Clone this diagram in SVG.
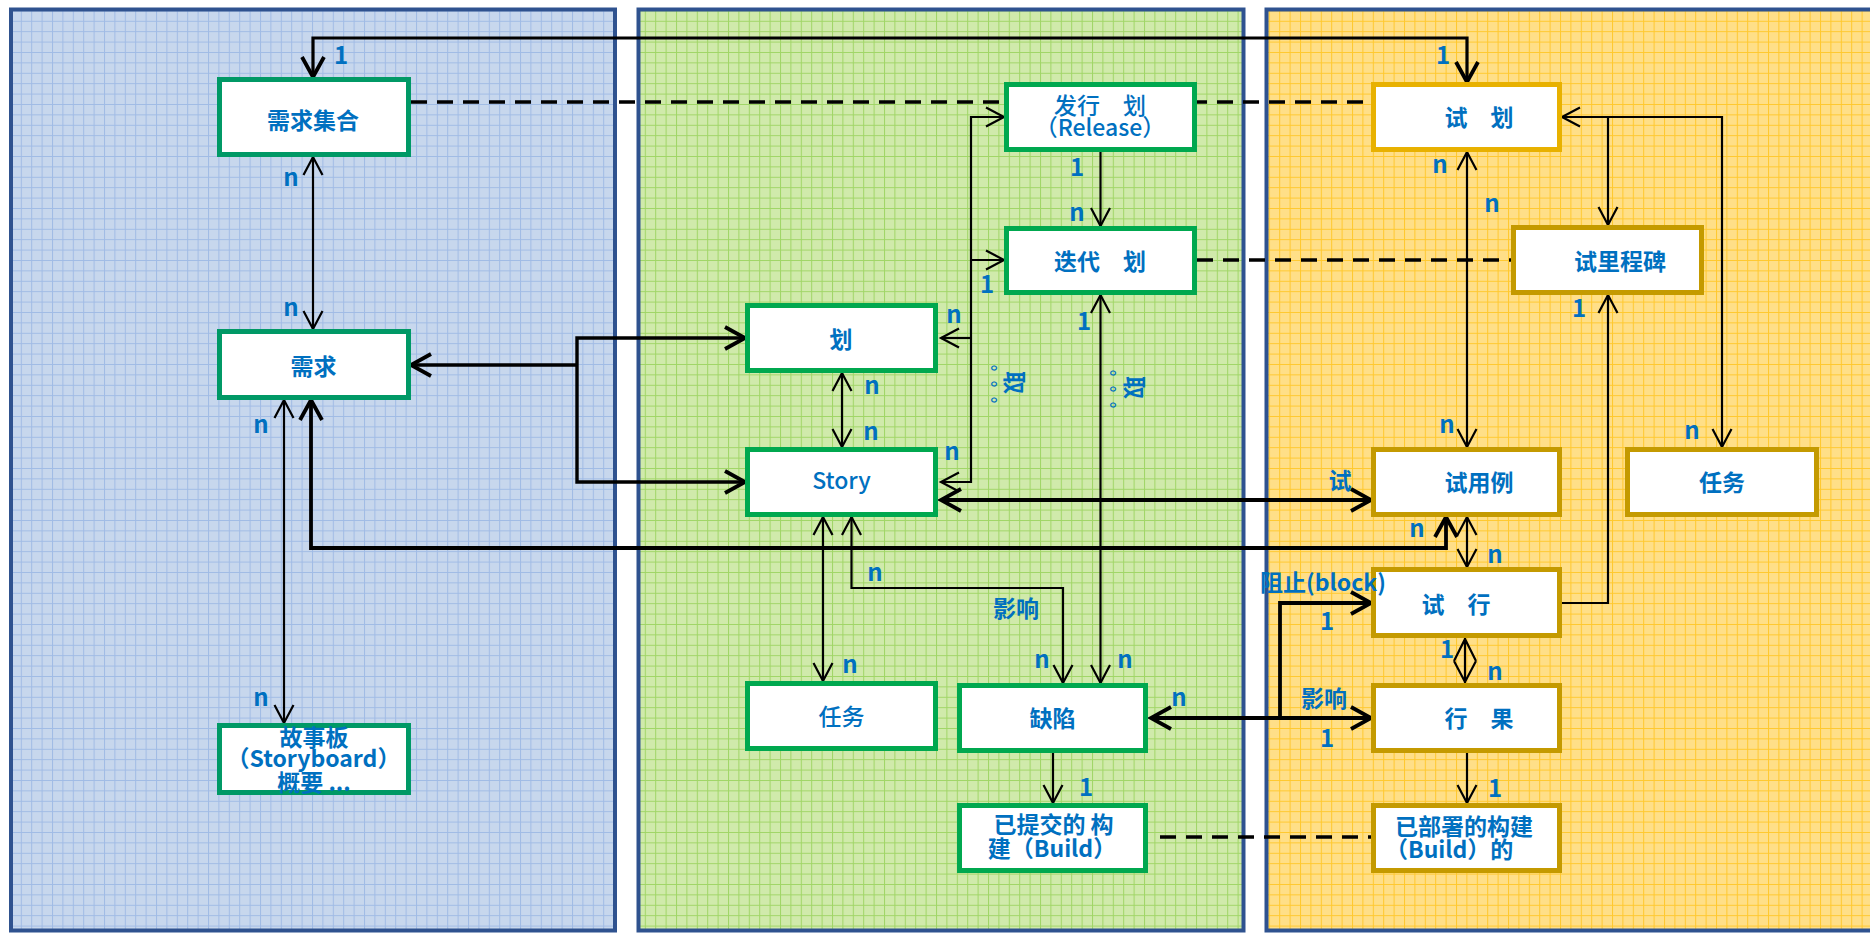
<svg xmlns="http://www.w3.org/2000/svg" width="1870" height="933" viewBox="0 0 1870 933">
<defs>
<style>
.pn{stroke:#2F528F;stroke-width:4}
.bx{fill:#fff;stroke-width:5}
.gl{stroke:#009966}
.gm{stroke:#00A84F}
.ya{stroke:#E8B100}
.yb{stroke:#C49A00}
.t{font-family:"Noto Sans CJK SC","Noto Sans",sans-serif;font-size:23px;font-weight:700;fill:#0070C0;text-anchor:middle}
.r{font-weight:500}
.l{font-size:24px}
.c{fill:none;stroke:#000;stroke-width:2.2}
.k{fill:none;stroke:#000;stroke-width:3.8}
.d{fill:none;stroke:#000;stroke-width:3.5;stroke-dasharray:16 10}
.a{marker-start:url(#ah);marker-end:url(#ah)}
.e{marker-end:url(#ah)}
.A{marker-start:url(#ahb);marker-end:url(#ahb)}
.E{marker-end:url(#ahb)}
</style>
<pattern id="gb" width="10.4" height="10.4" patternUnits="userSpaceOnUse">
<rect width="10.4" height="10.4" fill="#C7D7ED"/>
<path d="M0,0.5H10.4M0.5,0V10.4" stroke="#A0BBE5" stroke-width="1"/>
</pattern>
<pattern id="gg" width="10.4" height="10.4" patternUnits="userSpaceOnUse">
<rect width="10.4" height="10.4" fill="#D0EAAB"/>
<path d="M0,0.5H10.4M0.5,0V10.4" stroke="#A0D566" stroke-width="1"/>
</pattern>
<pattern id="gy" width="10.4" height="10.4" patternUnits="userSpaceOnUse">
<rect width="10.4" height="10.4" fill="#FFDF88"/>
<path d="M0,0.5H10.4M0.5,0V10.4" stroke="#FFC82E" stroke-width="1"/>
</pattern>
<marker id="ah" markerUnits="userSpaceOnUse" viewBox="-22 -13 26 26" refX="0" refY="0" markerWidth="26" markerHeight="26" orient="auto-start-reverse">
<path d="M-18,-9.5L0,0L-18,9.5" fill="none" stroke="#000" stroke-width="2.2"/>
</marker>
<marker id="ahb" markerUnits="userSpaceOnUse" viewBox="-24 -15 30 30" refX="0" refY="0" markerWidth="30" markerHeight="30" orient="auto-start-reverse">
<path d="M-20,-11L0,0L-20,11" fill="none" stroke="#000" stroke-width="3.8"/>
</marker>
</defs>

<g id="panels">
<rect class="pn" x="11" y="9.5" width="604" height="921" fill="url(#gb)"/>
<rect class="pn" x="638.5" y="9.5" width="605" height="921" fill="url(#gg)"/>
<rect class="pn" x="1266.5" y="9.5" width="615" height="921" fill="url(#gy)"/>
</g>

<g id="connectors">
<path class="d" d="M411,102H1371"/>
<path class="d" d="M1197,260H1511"/>
<path class="d" d="M1160,837H1371"/>
<path class="c A" style="stroke-width:3.2" d="M313,77V38H1467V82"/>
<path class="c a" d="M313,157V329"/>
<path class="k A" style="stroke-width:3.4" d="M745,338H577V482H745"/>
<path class="k E" style="stroke-width:3.4" d="M577,365H411"/>
<path class="c a" d="M284,400V723"/>
<path class="k A" d="M311,400V548H1446V517"/>
<path class="c a" d="M1004,117H971V482H941"/>
<path class="c e" d="M971,260H1004"/>
<path class="c e" d="M971,338H941"/>
<path class="c e" d="M1100.5,152V226"/>
<path class="c a" d="M1100.5,295V683"/>
<path class="c a" d="M842,373V447"/>
<path class="c a" d="M823,517V681"/>
<path class="c a" d="M851.5,517V588H1063V683"/>
<path class="k A" d="M941,500H1371"/>
<path class="k A" d="M1151,718H1280V603H1371"/>
<path class="k E" d="M1280,718H1371"/>
<path class="c e" d="M1053,753V803"/>
<path class="c a" d="M1467,152V447"/>
<path class="c a" d="M1562,117H1722V447"/>
<path class="c e" d="M1608,117V225"/>
<path class="c e" d="M1562,603H1608V295"/>
<path class="c a" d="M1467,517V567"/>
<path class="c" d="M1465,638V683M1454,661L1465,639L1476,661M1454,661L1465,682L1476,661"/>
<path class="c e" d="M1467,753V803"/>
</g>

<g id="n-reqset"><rect class="bx gl" x="219.5" y="79.5" width="189" height="75"/><text class="t" x="313" y="129">需求集合</text></g>
<g id="n-req"><rect class="bx gl" x="219.5" y="331.5" width="189" height="66"/><text class="t" x="313.5" y="375">需求</text></g>
<g id="n-storyboard"><rect class="bx gl" x="219.5" y="725.5" width="189" height="67"/><text class="t" x="314" y="746">故事板</text><text class="t" x="313.5" y="767">（Storyboard）</text><text class="t" x="314" y="791">概要 ...</text></g>

<g id="n-release"><rect class="bx gm" x="1006.5" y="84.5" width="188" height="65"/><text class="t r" x="1100" y="114">发行　划</text><text class="t r" x="1100" y="136">（Release）</text></g>
<g id="n-iteration"><rect class="bx gm" x="1006.5" y="228.5" width="188" height="64"/><text class="t" x="1100" y="270">迭代　划</text></g>
<g id="n-plan"><rect class="bx gm" x="747.5" y="305.5" width="188" height="65"/><text class="t" x="841" y="348">划</text></g>
<g id="n-story"><rect class="bx gm" x="747.5" y="449.5" width="188" height="65"/><text class="t r" x="841.5" y="489">Story</text></g>
<g id="n-task"><rect class="bx gm" x="747.5" y="683.5" width="188" height="65"/><text class="t r" x="841.5" y="725">任务</text></g>
<g id="n-defect"><rect class="bx gm" x="959.5" y="685.5" width="186" height="65"/><text class="t" x="1052.5" y="727">缺陷</text></g>
<g id="n-build"><rect class="bx gm" x="959.5" y="805.5" width="186" height="65"/><text class="t" x="1053.5" y="833">已提交的 构</text><text class="t" x="1052" y="857">建（Build）</text></g>

<g id="n-testplan"><rect class="bx ya" x="1373.5" y="84.5" width="186" height="65"/><text class="t" x="1479" y="126">试　划</text></g>
<g id="n-milestone"><rect class="bx yb" x="1513.5" y="227.5" width="188" height="65"/><text class="t" x="1620" y="270">试里程碑</text></g>
<g id="n-testcase"><rect class="bx yb" x="1373.5" y="449.5" width="186" height="65"/><text class="t" x="1479" y="491">试用例</text></g>
<g id="n-task2"><rect class="bx yb" x="1627.5" y="449.5" width="189" height="65"/><text class="t" x="1722" y="491">任务</text></g>
<g id="n-testrun"><rect class="bx yb" x="1373.5" y="569.5" width="186" height="66"/><text class="t" x="1456" y="613">试　行</text></g>
<g id="n-result"><rect class="bx yb" x="1373.5" y="685.5" width="186" height="65"/><text class="t" x="1479" y="727">行　果</text></g>
<g id="n-deployed"><rect class="bx yb" x="1373.5" y="805.5" width="186" height="65"/><text class="t" x="1395" y="835" style="text-anchor:start">已部署的构建</text><text class="t" x="1385" y="858" style="text-anchor:start">（Build）的</text></g>

<g id="labels">
<text class="t l" x="341" y="64">1</text>
<text class="t l" x="1443" y="64">1</text>
<text class="t l" x="1077" y="176">1</text>
<text class="t l" x="987" y="293">1</text>
<text class="t l" x="1084" y="330">1</text>
<text class="t l" x="1086" y="796">1</text>
<text class="t l" x="1579" y="317">1</text>
<text class="t l" x="1327" y="630">1</text>
<text class="t l" x="1327" y="747">1</text>
<text class="t l" x="1447" y="658">1</text>
<text class="t l" x="1495" y="797">1</text>
<text class="t l" x="291" y="186">n</text>
<text class="t l" x="291" y="316">n</text>
<text class="t l" x="261" y="433">n</text>
<text class="t l" x="261" y="706">n</text>
<text class="t l" x="1077" y="221">n</text>
<text class="t l" x="954" y="323">n</text>
<text class="t l" x="872" y="394">n</text>
<text class="t l" x="871" y="440">n</text>
<text class="t l" x="952" y="460">n</text>
<text class="t l" x="875" y="581">n</text>
<text class="t l" x="1042" y="668">n</text>
<text class="t l" x="1125" y="668">n</text>
<text class="t l" x="850" y="673">n</text>
<text class="t l" x="1179" y="706">n</text>
<text class="t l" x="1440" y="173">n</text>
<text class="t l" x="1492" y="212">n</text>
<text class="t l" x="1447" y="433">n</text>
<text class="t l" x="1692" y="439">n</text>
<text class="t l" x="1417" y="537">n</text>
<text class="t l" x="1495" y="563">n</text>
<text class="t l" x="1495" y="680">n</text>
<text class="t" x="1016" y="617">影响</text>
<text class="t" x="1324" y="707">影响</text>
<text class="t" x="1340" y="489">试</text>
<text class="t" x="1260" y="591" style="text-anchor:start">阻止(block)</text>
<text class="t" transform="translate(1014.5,382.5) rotate(90)" x="0" y="8.7">取</text>
<text class="t" style="font-family:'Noto Sans CJK TC',sans-serif;font-size:16px" transform="translate(993.7,384) rotate(90)" x="0" y="6">。。。</text>
<text class="t" transform="translate(1134.5,387.5) rotate(90)" x="0" y="8.7">取</text>
<text class="t" style="font-family:'Noto Sans CJK TC',sans-serif;font-size:16px" transform="translate(1113,389) rotate(90)" x="0" y="6">。。。</text>
</g>
</svg>
